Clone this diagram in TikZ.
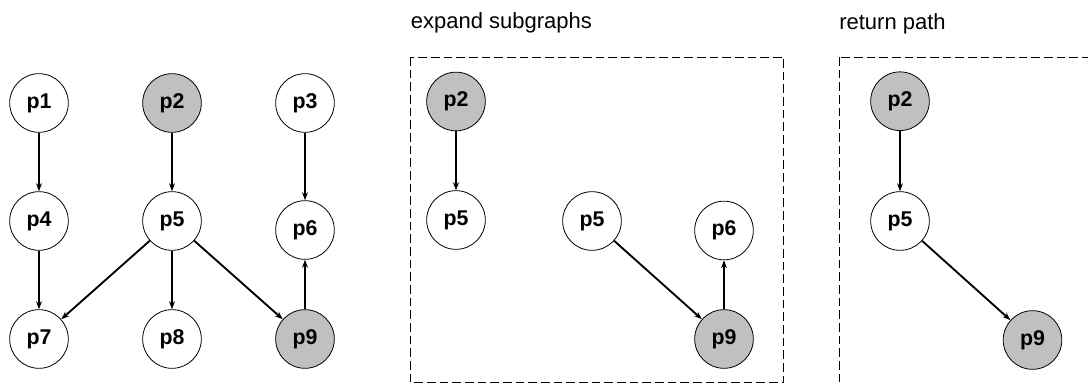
\documentclass[tikz,border=0pt]{standalone}
\usepackage{fontspec}
\setmainfont{Liberation Sans}
\usepackage{xcolor}
\definecolor{hit}{HTML}{C0C0C0}
\usepackage{tikz}
\usetikzlibrary{arrows.meta}

\begin{document}
\begin{tikzpicture}[x=0.75pt,y=0.75pt,>={Stealth[length=6pt,width=4.4pt]},
  pnode/.style={draw,circle,minimum size=44pt,inner sep=0pt,line width=0.6pt,font=\fontsize{16}{19}\selectfont\bfseries},
  marked/.style={pnode,fill=hit},
  link/.style={->,line width=1.4pt},
  groupbox/.style={line width=0.6pt,dash pattern=on 6.5pt off 3pt},
  title/.style={anchor=base west,inner sep=0pt,font=\fontsize{16.5}{20}\selectfont}]
\path[use as bounding box,clip] (0,0) rectangle (1088,385);
% input graph
\node[pnode]  (P1) at (39,282) {p1};
\node[marked] (P2) at (172,282) {p2};
\node[pnode]  (P3) at (305,282) {p3};
\node[pnode]  (P4) at (39,164) {p4};
\node[pnode]  (P5) at (172,164) {p5};
\node[pnode]  (P6) at (305,155) {p6};
\node[pnode]  (P7) at (39,46) {p7};
\node[pnode]  (P8) at (172,46) {p8};
\node[marked] (P9) at (305,46) {p9};
\draw[link] (P1) -- (P4);
\draw[link] (P2) -- (P5);
\draw[link] (P3) -- (P6);
\draw[link] (P4) -- (P7);
\draw[link] (P5) -- (P7);
\draw[link] (P5) -- (P8);
\draw[link] (P5) -- (P9);
\draw[link] (P9) -- (P6);
% expand subgraphs
\node[title] (T1) at (410.7,356.7) {expand subgraphs};
\draw[groupbox] (410.5,328) rectangle (783.5,2.5);
\node[marked] (Q2) at (456,283.5) {p2};
\node[pnode]  (Q5) at (456,165) {p5};
\node[pnode]  (R5) at (592,164) {p5};
\node[pnode]  (Q6) at (724,154.5) {p6};
\node[marked] (Q9) at (724,46) {p9};
\draw[link] (Q2) -- (Q5);
\draw[link] (R5) -- (Q9);
\draw[link] (Q9) -- (Q6);
% return path
\node[title] (T2) at (839,355.7) {return path};
\draw[groupbox] (839.5,328) rectangle (1120,-30);
\node[marked] (S2) at (900,283.8) {p2};
\node[pnode]  (S5) at (900,164) {p5};
\node[marked] (S9) at (1032.5,45) {p9};
\draw[link] (S2) -- (S5);
\draw[link] (S5) -- (S9);
\end{tikzpicture}
\end{document}
